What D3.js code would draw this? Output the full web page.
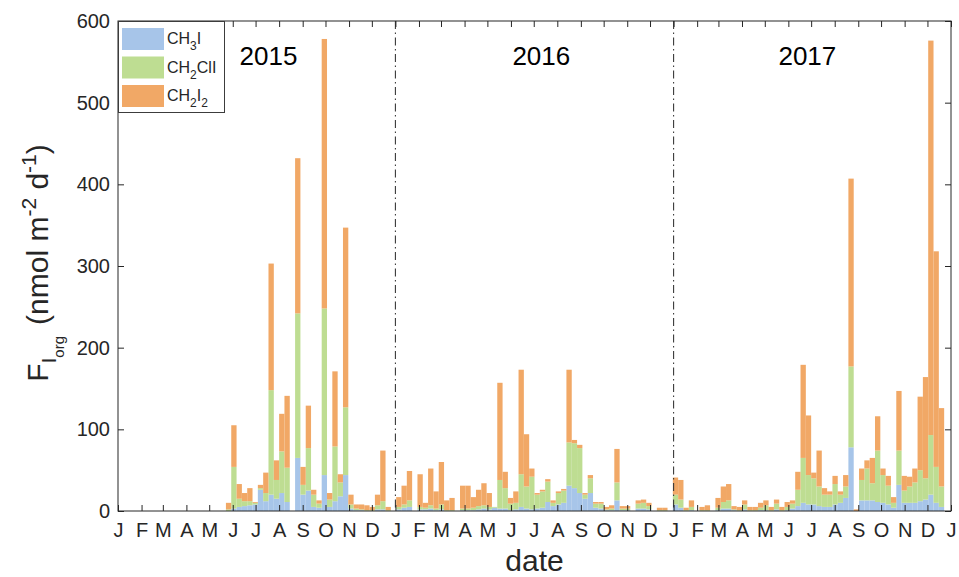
<!DOCTYPE html>
<html>
<head>
<meta charset="utf-8">
<script src="https://cdn.jsdelivr.net/npm/d3@7"></script>
<style>
  body { margin: 0; background: #fff; }
  svg { display: block; }
  text { font-family: "Liberation Sans", Arial, Helvetica, sans-serif; fill: #262626; }
</style>
</head>
<body>
<svg id="chart" width="959" height="577"></svg>
<script>
// Weekly organic iodine fluxes (nmol m^-2 d^-1), stacked by compound
const firstWeek = "2015-05-23";
const seriesKeys = ["CH3I", "CH2ClI", "CH2I2"];

const ch3i = [
  0, 3, 5, 6, 7, 8, 26, 12, 20, 15,
  22, 11, 0, 65, 20, 25, 5, 4, 44, 5,
  12, 18, 44, 3, 1, 1, 0, 0, 2, 2,
  0, 0, 2, 4, 5, 0, 2, 2, 3, 1,
  2, 0, 0, 0, 1, 1, 1, 2, 3, 2,
  4, 3, 3, 1, 2, 5, 3, 2, 3, 4,
  11, 6, 8, 10, 31, 28, 22, 15, 22, 4,
  3, 1, 1, 13, 1, 1, 0, 3, 3, 2,
  0, 0, 0, 0, 8, 4, 0, 1, 0, 0,
  0, 0, 1, 3, 3, 1, 0, 2, 0, 0,
  1, 1, 0, 2, 0, 1, 3, 6, 10, 8,
  8, 6, 5, 5, 8, 10, 16, 78, 0, 13,
  13, 13, 11, 10, 8, 4, 32, 10, 10, 10,
  12, 14, 20, 10, 5
];

const ch2cli = [
  2, 51, 10, 6, 5, 2, 2, 10, 128, 23,
  51, 42, 0, 177, 12, 52, 15, 5, 204, 9,
  67, 17, 83, 5, 2, 1, 1, 1, 5, 10,
  1, 0, 3, 4, 8, 0, 3, 2, 4, 2,
  6, 1, 1, 0, 2, 2, 3, 4, 4, 3,
  1, 35, 25, 8, 8, 40, 27, 40, 17, 20,
  25, 4, 14, 15, 53, 55, 55, 5, 18, 5,
  6, 1, 2, 22, 2, 2, 0, 6, 7, 4,
  0, 1, 1, 0, 12, 10, 1, 4, 0, 1,
  1, 0, 3, 8, 10, 1, 1, 6, 1, 1,
  3, 6, 1, 7, 1, 4, 6, 20, 55, 36,
  32, 24, 15, 15, 25, 10, 14, 99, 0, 25,
  39, 21, 63, 34, 23, 6, 42, 15, 20, 25,
  38, 26, 73, 44, 25
];

const ch2i2 = [
  8, 51, 18, 10, 16, 1, 4, 25, 155, 24,
  46, 88, 0, 190, 22, 52, 6, 4, 330, 8,
  92, 10, 220, 12, 5, 6, 6, 4, 13, 62,
  4, 0, 12, 23, 36, 0, 40, 6, 45, 21,
  52, 12, 15, 0, 28, 28, 13, 20, 27, 17,
  0, 119, 20, 7, 14, 128, 64, 10, 2, 2,
  3, 3, 2, 2, 89, 4, 4, 2, 4, 2,
  2, 3, 4, 41, 3, 3, 0, 4, 4, 4,
  0, 3, 3, 0, 21, 24, 3, 8, 0, 4,
  6, 0, 12, 19, 20, 4, 4, 5, 4, 4,
  6, 6, 4, 5, 4, 6, 4, 22, 114, 73,
  7, 44, 8, 4, 10, 4, 14, 230, 2, 14,
  10, 31, 42, 8, 12, 7, 73, 18, 12, 17,
  90, 124, 483, 264, 96
];

const monthLetters = ["J", "F", "M", "A", "M", "J", "J", "A", "S", "O", "N", "D"];
const yTicks = [0, 100, 200, 300, 400, 500, 600];
const yearNames = ["2015", "2016", "2017"];
const yearBreaks = ["2016-01-01", "2017-01-01"];

const colors = { CH3I: "#a7c5e9", CH2ClI: "#bedd92", CH2I2: "#f1a866" };

const svg = d3.select("#chart");
const plotLeft = 118, plotRight = 951, plotTop = 21, plotBottom = 511;

const parse = d3.utcParse("%Y-%m-%d");
const start = parse(firstWeek);
const weeks = ch3i.map((_, i) => d3.utcDay.offset(start, 7 * i));

const rows = weeks.map((d, i) => ({ date: d, CH3I: ch3i[i], CH2ClI: ch2cli[i], CH2I2: ch2i2[i] }));

const x = d3.scaleUtc()
  .domain([parse("2015-01-01"), parse("2018-01-01")])
  .range([plotLeft, plotRight]);
const y = d3.scaleLinear().domain([0, 600]).range([plotBottom, plotTop]);

// stacked bars
const stacked = d3.stack().keys(seriesKeys)(rows);
svg.append("g").selectAll("g")
  .data(stacked)
  .join("g")
  .attr("fill", s => colors[s.key])
  .selectAll("rect")
  .data(s => s)
  .join("rect")
  .attr("x", d => x(d.data.date))
  .attr("width", d => x(d3.utcDay.offset(d.data.date, 7)) - x(d.data.date))
  .attr("y", d => y(d[1]))
  .attr("height", d => Math.max(0, y(d[0]) - y(d[1])));

// year separators
svg.append("g").selectAll("line")
  .data(yearBreaks)
  .join("line")
  .attr("x1", d => x(parse(d))).attr("x2", d => x(parse(d)))
  .attr("y1", plotTop).attr("y2", plotBottom)
  .attr("stroke", "#3a3a3a")
  .attr("stroke-width", 1.1)
  .attr("stroke-dasharray", "8,3.5,1.5,3.5");

// year labels, placed over the sampled part of each year
const yearLabelAt = { "2015": "2015-07-18", "2016": "2016-07-11", "2017": "2017-06-26" };
svg.append("g").selectAll("text")
  .data(yearNames)
  .join("text")
  .attr("x", d => x(parse(yearLabelAt[d])))
  .attr("y", 65)
  .attr("text-anchor", "middle")
  .style("font-size", "26px")
  .style("fill", "#000")
  .text(d => d);

// axes
const months = d3.utcMonth.range(parse("2015-01-01"), d3.utcDay.offset(parse("2018-01-01"), 1));
const xAxis = d3.axisBottom(x)
  .tickValues(months)
  .tickSizeInner(-6).tickSizeOuter(0).tickPadding(12)
  .tickFormat(d => monthLetters[d.getUTCMonth()]);
const gx = svg.append("g").attr("transform", `translate(0,${plotBottom})`).call(xAxis);
gx.select(".domain").remove();
gx.selectAll("text").style("font-size", "20px").style("fill", "#262626");
gx.selectAll("line").attr("stroke", "#262626");

const xTop = d3.axisTop(x).tickValues(months).tickSizeInner(-6).tickSizeOuter(0).tickFormat("");
const gxt = svg.append("g").attr("transform", `translate(0,${plotTop})`).call(xTop);
gxt.select(".domain").remove();
gxt.selectAll("line").attr("stroke", "#262626");

const yAxis = d3.axisLeft(y).tickValues(yTicks).tickSizeInner(-6).tickSizeOuter(0).tickPadding(8);
const gy = svg.append("g").attr("transform", `translate(${plotLeft},0)`).call(yAxis);
gy.select(".domain").remove();
gy.selectAll("text").style("font-size", "20px").style("fill", "#262626");
gy.selectAll("line").attr("stroke", "#262626");

const yRight = d3.axisRight(y).tickValues(yTicks).tickSizeInner(-6).tickSizeOuter(0).tickFormat("");
const gyr = svg.append("g").attr("transform", `translate(${plotRight},0)`).call(yRight);
gyr.select(".domain").remove();
gyr.selectAll("line").attr("stroke", "#262626");

// axes box
svg.append("rect")
  .attr("x", plotLeft).attr("y", plotTop)
  .attr("width", plotRight - plotLeft).attr("height", plotBottom - plotTop)
  .attr("fill", "none").attr("stroke", "#262626").attr("stroke-width", 1);

// x label
svg.append("text")
  .attr("x", (plotLeft + plotRight) / 2).attr("y", 571)
  .attr("text-anchor", "middle")
  .style("font-size", "30px")
  .text("date");

// y label: F_{I_org} (nmol m^-2 d^-1)
const yl = svg.append("text")
  .attr("transform", "translate(48,263) rotate(-90)")
  .attr("text-anchor", "middle")
  .style("font-size", "30px");
yl.append("tspan").text("F");
yl.append("tspan").attr("dy", 8).style("font-size", "21px").text("I");
yl.append("tspan").attr("dy", 8).style("font-size", "15px").text("org");
yl.append("tspan").attr("dy", -16).attr("dx", 11).text("(nmol m");
yl.append("tspan").attr("dy", -12).style("font-size", "21px").text("-2");
yl.append("tspan").attr("dy", 12).text(" d");
yl.append("tspan").attr("dy", -12).style("font-size", "21px").text("-1");
yl.append("tspan").attr("dy", 12).text(")");

// legend
const lg = svg.append("g");
lg.append("rect")
  .attr("x", plotLeft + 0.5).attr("y", plotTop + 0.5)
  .attr("width", 106).attr("height", 91)
  .attr("fill", "#fff").attr("stroke", "#3c3c3c").attr("stroke-width", 1);
const legendParts = {
  CH3I: [["CH", 0], ["3", 1], ["I", 0]],
  CH2ClI: [["CH", 0], ["2", 1], ["ClI", 0]],
  CH2I2: [["CH", 0], ["2", 1], ["I", 0], ["2", 1]]
};
seriesKeys.forEach((k, i) => {
  const yy = 28 + i * 28.5;
  lg.append("rect").attr("x", 122).attr("y", yy).attr("width", 42).attr("height", 22)
    .attr("fill", colors[k]);
  const t = lg.append("text").attr("x", 167).attr("y", yy + 16).style("font-size", "16px");
  let prevSub = 0;
  legendParts[k].forEach(([s, sub]) => {
    const ts = t.append("tspan").text(s);
    if (sub !== prevSub) ts.attr("dy", sub ? 6 : -6);
    if (sub) ts.style("font-size", "12px");
    prevSub = sub;
  });
});
</script>
</body>
</html>
